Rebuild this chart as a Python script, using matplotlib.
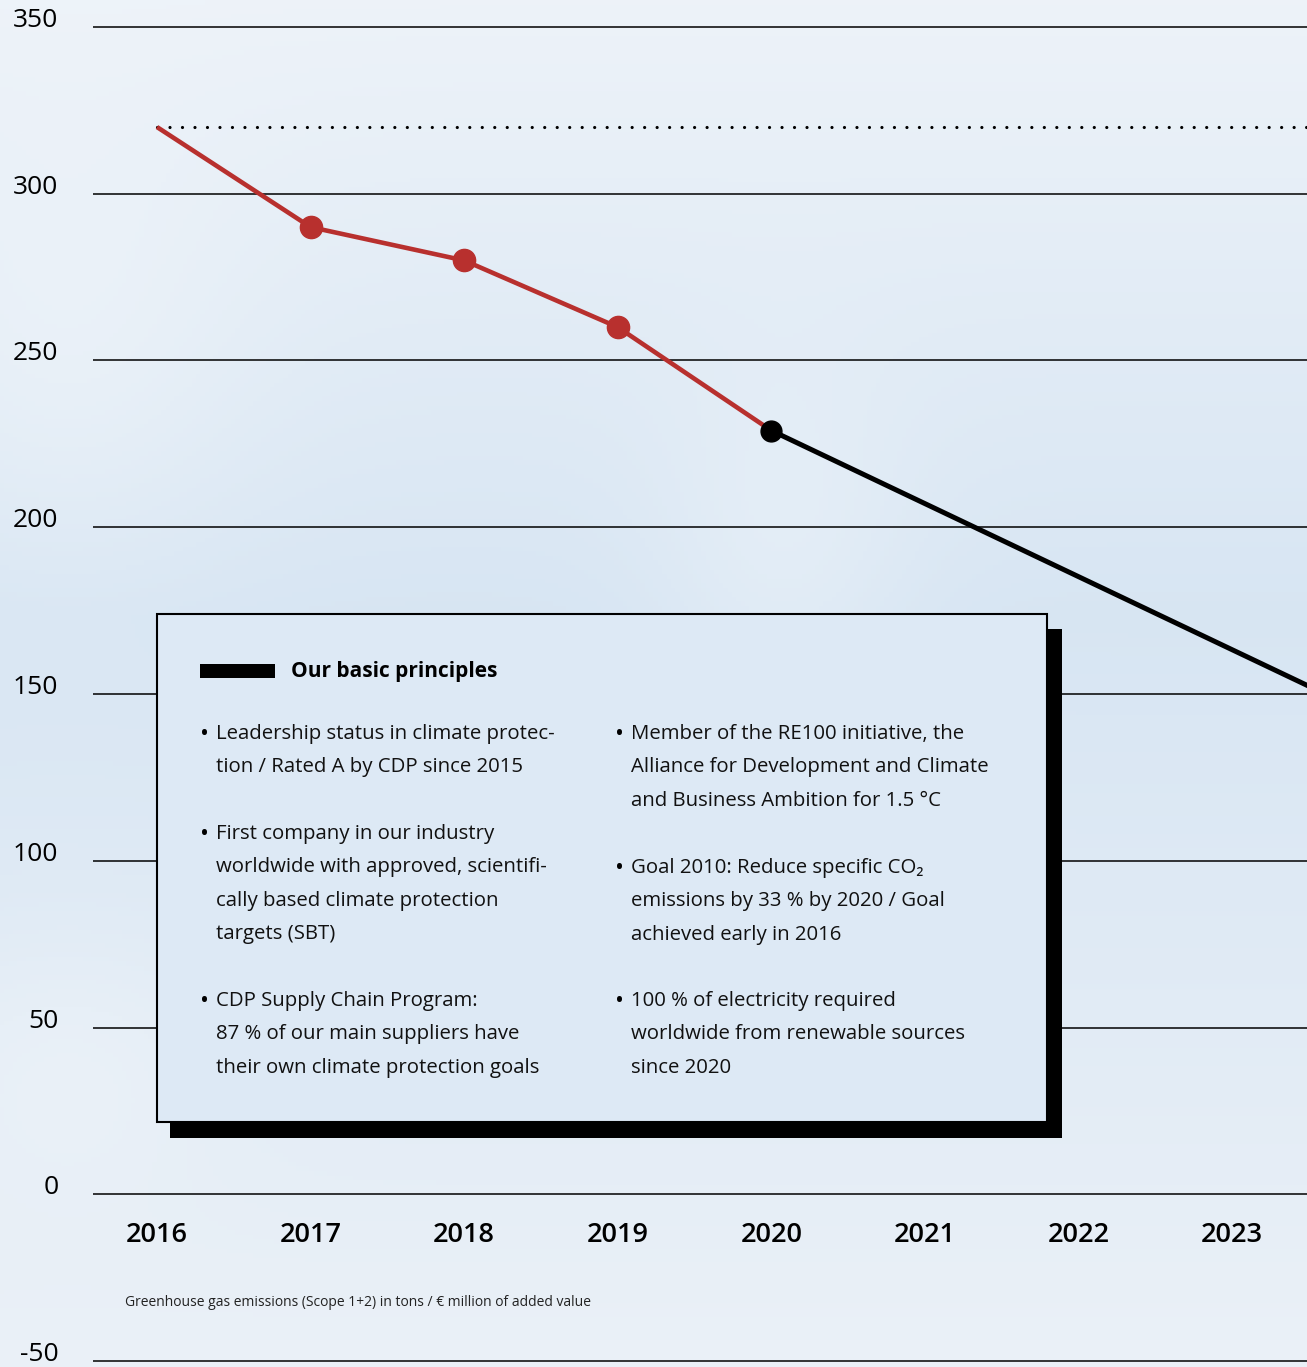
import matplotlib.pyplot as plt
import matplotlib.patches as patches
from matplotlib.transforms import ScaledTranslation
import numpy as np

# chart values
hist_years = [2016, 2017, 2018, 2019, 2020]
hist_values = [320, 290, 280, 260, 229]
target_years = [2020, 2030]
target_values = [229, 10]
baseline_value = 320
year_labels = ['2016', '2017', '2018', '2019', '2020', '2021', '2022', '2023']
year_ticks = [2016, 2017, 2018, 2019, 2020, 2021, 2022, 2023]
y_ticks = [-50, 0, 50, 100, 150, 200, 250, 300, 350]

box_title = 'Our basic principles'
left_items = [
    ['Leadership status in climate protec-', 'tion / Rated A by CDP since 2015'],
    ['First company in our industry', 'worldwide with approved, scientifi-',
     'cally based climate protection', 'targets (SBT)'],
    ['CDP Supply Chain Program:', '87 % of our main suppliers have',
     'their own climate protection goals'],
]
right_items = [
    ['Member of the RE100 initiative, the', 'Alliance for Development and Climate',
     'and Business Ambition for 1.5 °C'],
    ['Goal 2010: Reduce specific CO₂', 'emissions by 33 % by 2020 / Goal',
     'achieved early in 2016'],
    ['100 % of electricity required', 'worldwide from renewable sources',
     'since 2020'],
]
footnote = 'Greenhouse gas emissions (Scope 1+2) in tons / € million of added value'

W, H = 1307, 1367
RED = '#b8302e'
FONT = ['Open Sans', 'DejaVu Sans']


def fx(x):
    return x / W


def fy(y):
    return 1 - y / H


fig = plt.figure(figsize=(W / 100, H / 100), dpi=100)

# soft sky background
bg = fig.add_axes([0, 0, 1, 1], zorder=-5)
yy, xx = np.mgrid[0:1:300j, 0:1:300j]
top = np.array([0.93, 0.952, 0.976])
mid = np.array([0.845, 0.9, 0.952])
bot = np.array([0.92, 0.944, 0.97])
t = yy[..., None]
col = np.where(t < 0.45, top + (mid - top) * (t / 0.45), mid + (bot - mid) * ((t - 0.45) / 0.55))
light = (0.55 * np.exp(-((xx - 0.05) ** 2 / 0.02 + (yy - 0.25) ** 2 / 0.03))
         + 0.5 * np.exp(-((xx - 0.6) ** 2 / 0.01 + (yy - 0.4) ** 2 / 0.02))
         + 0.45 * np.exp(-((xx - 0.05) ** 2 / 0.015 + (yy - 0.78) ** 2 / 0.01)))
col = col + (1 - col) * (0.5 * light[..., None])
bg.imshow(np.clip(col, 0, 1), extent=[0, 1, 0, 1], aspect='auto', origin='upper')
bg.axis('off')

# main axes
u = (1361 - 27) / 400
ax_top = 27 - 2 * u
ax_bot = 1361 + 1 * u
ax = fig.add_axes([fx(93), fy(ax_bot), fx(W - 93), (ax_bot - ax_top) / H])
ax.patch.set_alpha(0)
ax.set_ylim(-51, 352)
ppy = (1232 - 157) / 7
ax.set_xlim(2016 - 64 / ppy, 2023 + 75 / ppy)
for s in ax.spines.values():
    s.set_visible(False)

ax.set_yticks(y_ticks)
ax.set_yticklabels([str(v) for v in y_ticks], fontsize=19, family=FONT, fontweight='medium')
ax.tick_params(axis='y', length=0, pad=25)
ax.set_xticks([])
for lbl in ax.get_yticklabels():
    lbl.set_transform(lbl.get_transform() + ScaledTranslation(0, 0.095, fig.dpi_scale_trans))
ax.yaxis.grid(True, color='black', linewidth=1.1)
ax.set_axisbelow(True)

for yr, lab in zip(year_ticks, year_labels):
    ax.text(yr, -12.3, lab, ha='center', va='center', fontsize=19.5, family=FONT,
            fontweight='semibold')

# baseline dotted
ax.plot([2016, ax.get_xlim()[1]], [baseline_value, baseline_value], color='black',
        linewidth=2.3, linestyle=(0, (0.01, 3.9)), dash_capstyle='round', zorder=3)

# historical and target lines
ax.plot(hist_years, hist_values, color=RED, linewidth=3.3, zorder=4, solid_capstyle='butt')
ax.plot(hist_years[1:4], hist_values[1:4], 'o', color=RED, markersize=16, zorder=5)
ax.plot(target_years, target_values, color='black', linewidth=3.6, zorder=4)
ax.plot(hist_years[-1], hist_values[-1], 'o', color='black', markersize=15, zorder=6)

# principles box
shadow = patches.Rectangle((fx(170), fy(1138)), fx(1062 - 170), (1138 - 629) / H,
                           transform=fig.transFigure, facecolor='black', zorder=2)
box = patches.Rectangle((fx(157), fy(1122)), fx(1047 - 157), (1122 - 614) / H,
                        transform=fig.transFigure, facecolor='#dde9f5', edgecolor='black',
                        linewidth=1.5, zorder=3)
fig.patches.extend([shadow, box])
bar = patches.Rectangle((fx(200), fy(678)), fx(75), 14 / H, transform=fig.transFigure,
                        facecolor='black', zorder=4)
fig.patches.append(bar)
fig.text(fx(291), fy(671), box_title, fontsize=15, family=FONT, fontweight='bold',
         va='center', zorder=5)

line_h = 33.4


def draw_column(items, bx, tx, starts):
    for lines, y0 in zip(items, starts):
        fig.text(fx(bx), fy(y0 + 1), '•', fontsize=17, family=FONT, va='center', zorder=5)
        for i, ln in enumerate(lines):
            fig.text(fx(tx), fy(y0 + i * line_h), ln, fontsize=14.7, family=FONT,
                     va='center', zorder=5, color='#111111')


draw_column(left_items, 200, 216, [734, 834, 1001])
draw_column(right_items, 615, 631, [734, 868, 1001])

fig.text(fx(125), fy(1302), footnote, fontsize=10, family=FONT, va='center',
         color='#222222')

fig.savefig('out.png', dpi=100)
